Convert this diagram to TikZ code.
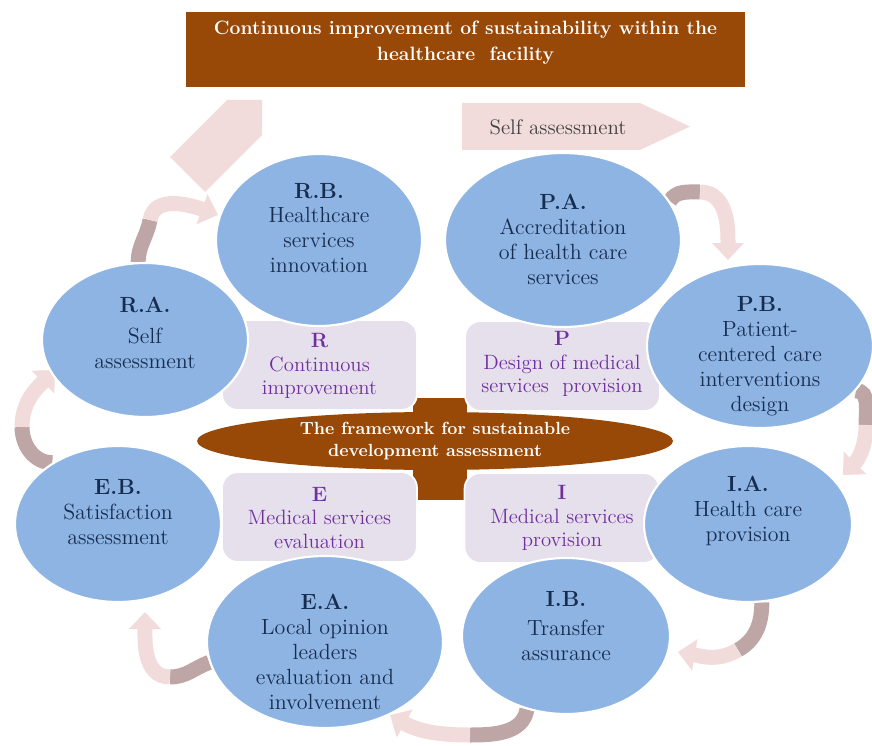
\documentclass[tikz,border=0pt]{standalone}
\usetikzlibrary{shapes.geometric,arrows.meta,backgrounds}
\definecolor{circblue}{RGB}{142,180,227}
\definecolor{navy}{RGB}{23,45,80}
\definecolor{lavbox}{RGB}{230,224,236}
\definecolor{purp}{RGB}{112,48,160}
\definecolor{rust}{RGB}{152,72,7}
\definecolor{blush}{RGB}{242,220,219}
\definecolor{mauve}{RGB}{191,166,166}
\definecolor{slate}{RGB}{64,64,64}
\begin{document}
\begin{tikzpicture}[x=0.02cm, y=0.02cm,
        stage/.style = {ellipse, fill=circblue, draw=white, line width=1.2pt, inner sep=0pt},
        stagetext/.style = {align=center, text=navy, font=\fontsize{12.5}{14.2}\selectfont},
        phase/.style = {rectangle, rounded corners=9pt, fill=lavbox, draw=white, line width=1pt, minimum width=3.9cm, minimum height=1.8cm},
        phasetext/.style = {align=center, text=purp, font=\fontsize{11.8}{13.6}\selectfont},
        loopa/.style = {draw=mauve, line width=0.3cm},
        loopb/.style = {draw=blush, line width=0.3cm, -{Triangle[width=0.62cm,length=0.34cm]}}]
        \useasboundingbox (0,0) rectangle (872,745);

        % top banner and the two wide arrows
        \node[rectangle, fill=rust, minimum width=11.18cm, minimum height=1.5cm] at (465.5,695.5) (banner) {};
        \node[align=center, text=white, font=\bfseries\fontsize{11}{14.8}\selectfont] at (465.5,702) (bannertext) {Continuous improvement of sustainability within the\\healthcare\ \ facility};

        \fill[blush] (462,642) -- (640,642) -- (690,618.5) -- (640,595) -- (462,595) -- cycle;
        \node[text=slate, font=\fontsize{12}{14}\selectfont] at (558,618) (self) {Self assessment};
        \fill[blush] (262,645) -- (227,645) -- (170,588) -- (205,553) -- (262,610) -- cycle;

        % centre
        \fill[rust] (413,245) rectangle (467,347);
        \node[ellipse, fill=rust, minimum width=9.52cm, minimum height=1.16cm] at (435,304) (frame) {};
        \node[align=center, text=white, font=\bfseries\fontsize{10}{12.5}\selectfont] at (435,304) (frametext) {The framework for sustainable\\development assessment};

        \node[phase] at (319.5,380) (R) {};
        \node[phase] at (562.5,379) (P) {};
        \node[phase] at (319.5,228) (E) {};
        \node[phase] at (562,227) (I) {};
        \node[phasetext] at (319.5,379) (Rt) {\textbf{R}\\Continuous\\improvement};
        \node[phasetext] at (562,381) (Pt) {\textbf{P}\\Design of medical\\services\ \ provision};
        \node[phasetext] at (319.5,227) (Et) {\textbf{E}\\Medical services\\evaluation};
        \node[phasetext] at (562,227) (It) {\textbf{I}\\Medical services\\provision};

        % stages
        \node[stage, minimum width=4.12cm, minimum height=3.44cm] at (319,505) (RB) {};
        \node[stage, minimum width=4.12cm, minimum height=3.08cm] at (145,405) (RA) {};
        \node[stage, minimum width=4.72cm, minimum height=3.48cm] at (563,505) (PA) {};
        \node[stage, minimum width=4.52cm, minimum height=3.28cm] at (760,399) (PB) {};
        \node[stage, minimum width=4.16cm, minimum height=3.12cm] at (748,221) (IA) {};
        \node[stage, minimum width=4.16cm, minimum height=3.12cm] at (566,109) (IB) {};
        \node[stage, minimum width=4.12cm, minimum height=3.12cm] at (118,221) (EB) {};
        \node[stage, minimum width=4.72cm, minimum height=3.44cm] at (325,103) (EA) {};

        \node[stagetext] at (319,517) (RBt) {\textbf{R.B.}\\Healthcare\\services\\innovation};
        \node[stagetext] at (145,412) (RAt) {\textbf{R.A.}\\[3pt]Self\\assessment};
        \node[stagetext] at (563,506) (PAt) {\textbf{P.A.}\\Accreditation\\of health care\\services};
        \node[stagetext] at (760,389) (PBt) {\textbf{P.B.}\\Patient-\\centered care\\interventions\\design};
        \node[stagetext] at (748,234) (IAt) {\textbf{I.A.}\\Health care\\provision};
        \node[stagetext] at (566,119) (IBt) {\textbf{I.B.}\\[2pt]Transfer\\assurance};
        \node[stagetext] at (118,233) (EBt) {\textbf{E.B.}\\Satisfaction\\assessment};
        \node[stagetext] at (325,93) (EAt) {\textbf{E.A.}\\Local opinion\\leaders\\evaluation and\\involvement};

        % curved arrows round the cycle
        \begin{scope}[on background layer]
            \coordinate (m1) at (700,553);
            \coordinate (t1) at (728,485);
            \coordinate (m2) at (866,320);
            \coordinate (t2) at (843,270);
            \coordinate (m3) at (738,95);
            \coordinate (t3) at (678,93);
            \coordinate (m4) at (470,10);
            \coordinate (t4) at (390,30);
            \coordinate (m5) at (170,68);
            \coordinate (t5) at (145,133);
            \coordinate (m6) at (22,318);
            \coordinate (t6) at (55,375);
            \coordinate (m7) at (150,525);
            \coordinate (t7) at (218,530);

            \draw[loopa] (PA.20) to[out=60,in=180] (m1);
            \draw[loopb] (m1) to[out=0,in=90] (t1);
            \draw[loopa] (PB.-25) to[out=0,in=90] (m2);
            \draw[loopb] (m2) to[out=-90,in=45] (t2);
            \draw[loopa] (IA.-80) to[out=-90,in=30] (m3);
            \draw[loopb] (m3) to[out=-150,in=-10] (t3);
            \draw[loopa] (IB.-118) to[out=-100,in=0] (m4);
            \draw[loopb] (m4) to[out=180,in=-30] (t4);
            \draw[loopa] (EA.190) to[out=200,in=0] (m5);
            \draw[loopb] (m5) to[out=180,in=-90] (t5);
            \draw[loopa] (EB.137) to[out=180,in=-90] (m6);
            \draw[loopb] (m6) to[out=90,in=-135] (t6);
            \draw[loopa] (RA.95) to[out=90,in=-100] (m7);
            \draw[loopb] (m7) to[out=80,in=160] (t7);
        \end{scope}
    \end{tikzpicture}
\end{document}
